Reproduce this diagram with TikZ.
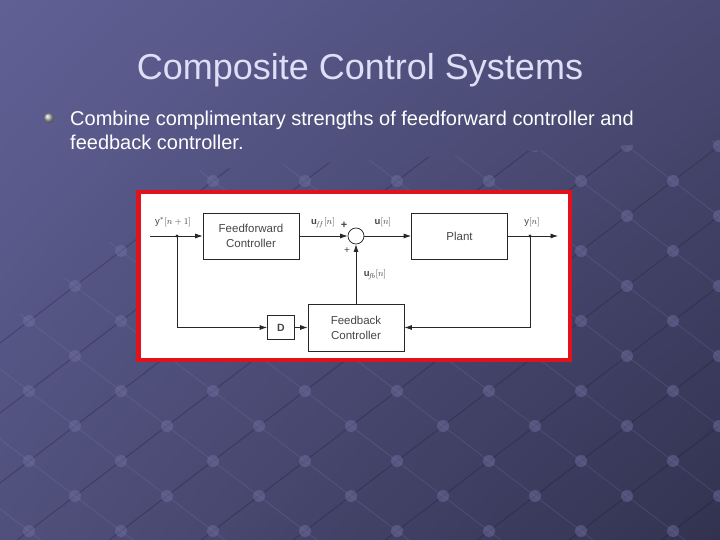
\documentclass[tikz,border=0pt]{standalone}
\usepackage{amsmath,amssymb}
\usepackage{xcolor}
\usepackage{fontspec}
\setmainfont{Liberation Sans}
\usepackage{tikz}
\usetikzlibrary{shadings,arrows.meta}

\definecolor{slidetl}{RGB}{96,96,150}
\definecolor{slidetr}{RGB}{74,74,116}
\definecolor{slidebl}{RGB}{80,80,124}
\definecolor{slidebr}{RGB}{50,50,80}
\definecolor{titletext}{RGB}{222,222,246}
\definecolor{framered}{RGB}{226,18,28}
\definecolor{linegray}{RGB}{40,40,40}
\definecolor{textgray}{RGB}{70,70,70}
\definecolor{latlight}{RGB}{150,150,200}
\definecolor{latdark}{RGB}{25,25,45}
\definecolor{latdot}{RGB}{115,115,165}

\begin{document}
\begin{tikzpicture}[x=1pt, y=-1pt]
                \tikzstyle{block} = [rectangle, minimum width=96pt, minimum height=46pt, text centered, align=center, draw=linegray, fill=white, line width=0.75pt, text=textgray, font=\fontsize{11.5}{15}\selectfont]
                \tikzstyle{sumnode} = [circle, minimum size=16pt, inner sep=0pt, draw=linegray, fill=white, line width=0.75pt]
                \tikzstyle{sig} = [inner sep=1pt, text=textgray, font=\fontsize{9.5}{10}\selectfont]
                \tikzstyle{arrow} = [line width=0.75pt, draw=linegray, ->, >={Latex[length=7.5pt,width=5pt]}]

                \useasboundingbox (0,0) rectangle (720,540);
                \shade [upper left=slidetl, upper right=slidetr, lower left=slidebl, lower right=slidebr] (0,0) rectangle (720,540);

                % lattice in the background
                \begin{scope}
                \clip (0,540) -- (0,330) -- (200,170) -- (720,140) -- (720,540) -- cycle;
                \foreach \i in {-8,...,14} {
                    \draw [latdark, opacity=0.3, line width=1pt] ({29+46*\i-46*8},{391+35*\i+35*8}) -- ({29+46*\i+46*14},{391+35*\i-35*14});
                    \draw [latlight, opacity=0.18, line width=0.8pt] ({29-46*8+46*\i},{391-35*8-35*\i}) -- ({29+46*14+46*\i},{391+35*14-35*\i});
                }
                \foreach \i in {-8,...,14} {
                    \foreach \j in {-8,...,14} {
                        \fill [latdot, opacity=0.45] ({29+46*\i+46*\j},{391+35*\i-35*\j}) circle (6pt);
                    }
                }
                \end{scope}

                % title and text
                \node (title) [anchor=base, text=titletext, font=\fontsize{36}{42}\selectfont] at (360,80) {Composite Control Systems};
                \node (dot) [circle, minimum size=10pt, inner sep=0pt, ball color=gray!60] at (49,118) {};
                \node (body) [anchor=base west, align=left, text=white, inner sep=0pt, font=\fontsize{20}{24}\selectfont] at (70,150) {Combine complimentary strengths of feedforward controller and\\feedback controller.};

                % red frame
                \draw [framered, fill=white, line width=4.5pt] (138.25,192.25) rectangle (569.75,359.75);

                \node (ff) [block] at (251,236) {Feedforward\\Controller};
                \node (sum) [sumnode, right of=ff, node distance=105pt] {};
                \node (plant) [block, right of=sum, node distance=103.5pt] {Plant};
                \node (fb) [block, below of=sum, node distance=91.5pt, minimum height=47pt] {Feedback\\Controller};
                \node (d) [block, left of=fb, node distance=75pt, minimum width=27pt, minimum height=24pt, font=\fontsize{10.5}{12}\selectfont\bfseries] {D};

                \coordinate (in) at (150,236);
                \coordinate (sp1) at (177,236);
                \coordinate (sp2) at (530,236);
                \coordinate (out) at (558,236);

                \node (ystar) [sig] at (173,222) {$\mathrm{y}^{*}[n+1]$};
                \node (uff) [sig] at (323,223) {$\mathbf{u}_{\!f\!f}[n]$};
                \node (plus1) [sig, font=\fontsize{11}{12}\selectfont\bfseries] at (344,225) {+};
                \node (plus2) [sig, font=\fontsize{10}{12}\selectfont] at (347,251) {+};
                \node (un) [sig] at (383,222) {$\mathbf{u}[n]$};
                \node (yn) [sig] at (532,222) {$\mathrm{y}[n]$};
                \node (ufb) [sig] at (375,275) {$\mathbf{u}_{\!f\!b}[n]$};

                \draw [arrow] (in) -- (ff);
                \draw [arrow] (ff) -- (sum);
                \draw [arrow] (sum) -- (plant);
                \draw [arrow] (plant) -- (out);
                \draw [arrow] (sp1) |- (d);
                \draw [arrow] (d) -- (fb);
                \draw [arrow] (sp2) |- (fb);
                \draw [arrow] (fb) -- (sum);
                \fill [linegray] (sp1) circle (1.6pt);
                \fill [linegray] (sp2) circle (1.6pt);
            \end{tikzpicture}
\end{document}
